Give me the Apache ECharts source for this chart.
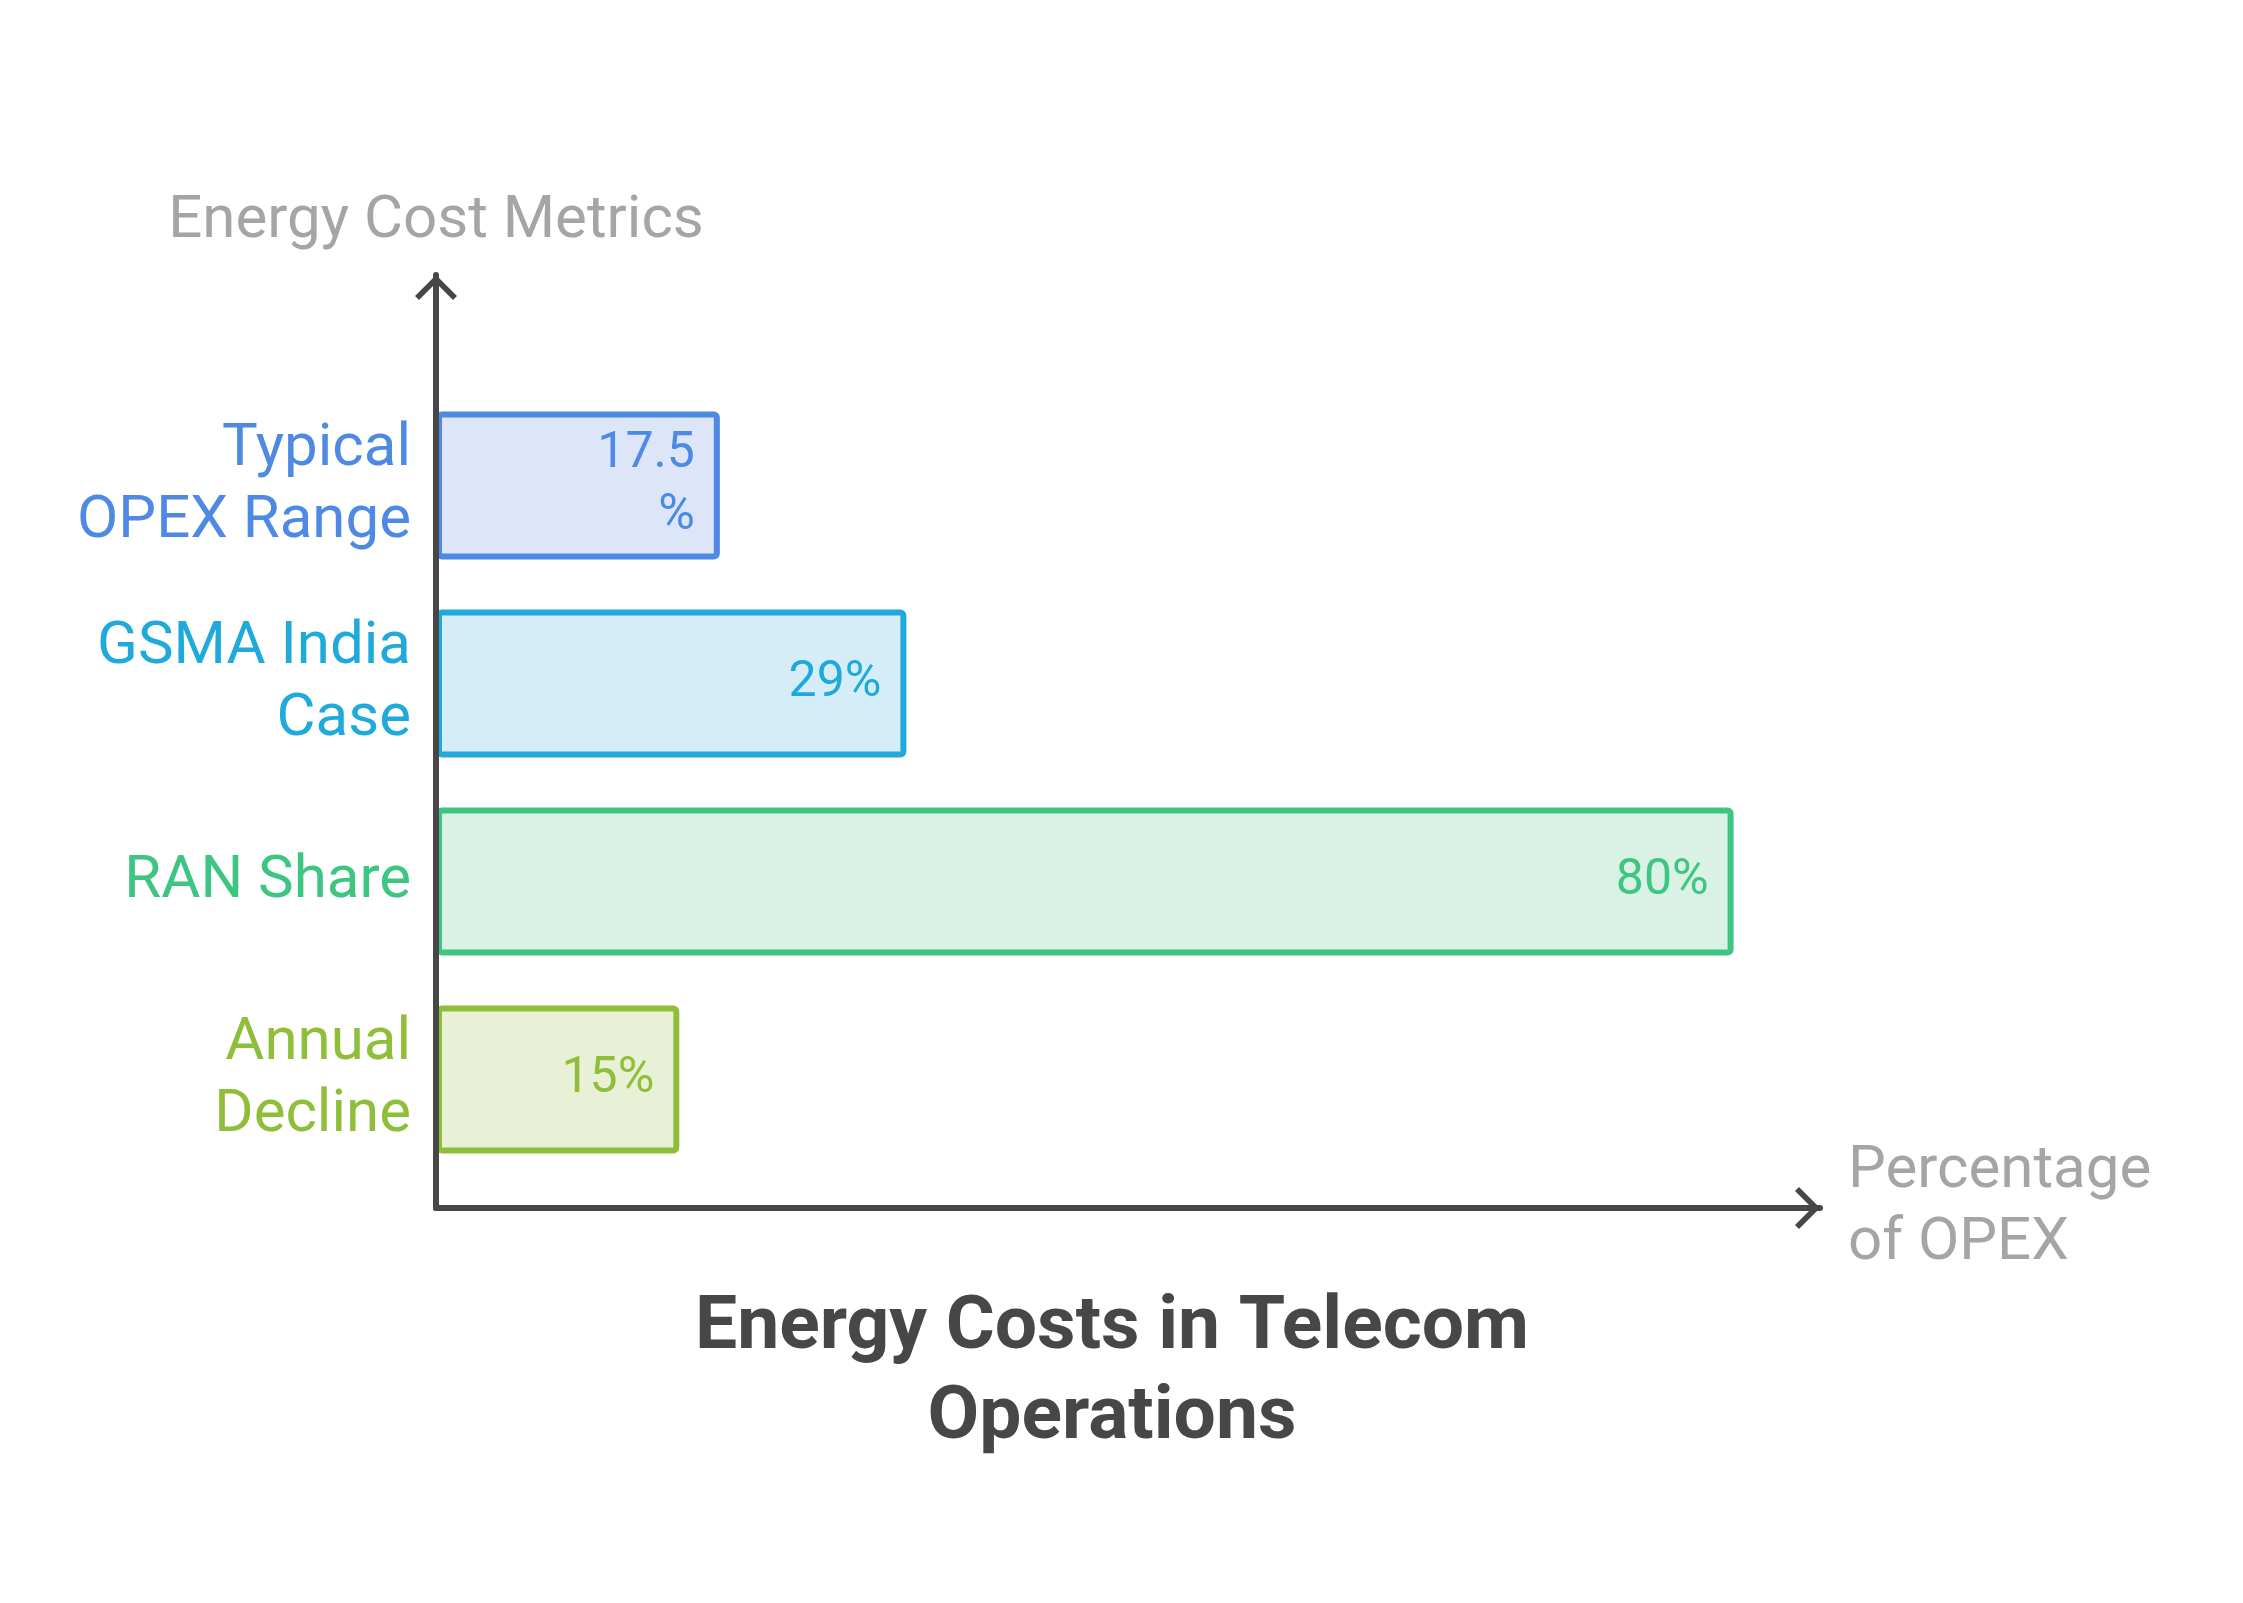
<!DOCTYPE html>
<html>
<head>
<meta charset="utf-8">
<title>Energy Costs in Telecom Operations</title>
<script src="https://cdn.jsdelivr.net/npm/echarts@6/dist/echarts.min.js"></script>
<style>
  html, body { margin: 0; padding: 0; background: #fff; }
  #chart { width: 2243px; height: 1603px; }
</style>
</head>
<body>
<div id="chart"></div>
<script>
/* Energy Costs in Telecom Operations — horizontal bars */

const CATEGORIES = ["Typical\nOPEX Range", "GSMA India\nCase", "RAN Share", "Annual\nDecline"];
const VALUES = [17.5, 29, 80, 15];
const LINE_COLORS = ["#4e89e4", "#20aadb", "#3ec581", "#8fbf3a"];
const FILL_COLORS = ["#dce6f8", "#d4edf8", "#d9f2e5", "#e8f1d6"];

const X_NAME = "Percentage\nof OPEX";
const Y_NAME = "Energy Cost Metrics";
const TITLE = "Energy Costs in Telecom\nOperations";

const AXIS_COLOR = "#474747";
const NAME_COLOR = "#a5a5a5";
const FONT = "Roboto, 'Noto Sans', sans-serif";

// open chevron, tip pointing "up" (ECharts rotates it along the axis)
const CHEVRON = "path://M21,0 L42,21 L38,25 L21,8 L4,25 L0,21 Z";

const chart = echarts.init(document.getElementById("chart"));

chart.setOption({
  backgroundColor: "#fff",
  animation: false,
  title: {
    text: TITLE,
    left: 1107,
    textAlign: "center",
    top: 1279,
    textStyle: {
      fontFamily: FONT, fontSize: 75, fontWeight: "bold",
      color: AXIS_COLOR, lineHeight: 90,
    },
  },
  grid: [
    // bars
    {left: 436, top: 386.5, width: 85 * 16.22, height: 792, containLabel: false},
    // visible axes with arrows
    {left: 436, top: 275, width: 1384, height: 933, containLabel: false},
  ],
  xAxis: [
    {
      gridIndex: 0, type: "value", min: 0, max: 85,
      axisLine: {show: false}, axisTick: {show: false},
      axisLabel: {show: false}, splitLine: {show: false},
    },
    {
      gridIndex: 1, type: "value", min: 0, max: 1, z: 10,
      name: X_NAME, nameLocation: "end", nameGap: 28,
      nameTextStyle: {fontFamily: FONT, fontSize: 60, color: NAME_COLOR, lineHeight: 72, align: "left"},
      axisLine: {
        show: true, onZero: false,
        lineStyle: {color: AXIS_COLOR, width: 6},
        symbol: ["none", CHEVRON], symbolSize: [42, 25], symbolOffset: [0, -12.5],
      },
      axisTick: {show: false}, axisLabel: {show: false}, splitLine: {show: false},
    },
  ],
  yAxis: [
    {
      gridIndex: 0, type: "category", inverse: true, data: CATEGORIES,
      axisLine: {show: false}, axisTick: {show: false}, splitLine: {show: false},
      axisLabel: {
        margin: 25, fontFamily: FONT, fontSize: 60, lineHeight: 72,
        align: "right",
        color: (v, i) => LINE_COLORS[i],
      },
    },
    {
      gridIndex: 1, type: "value", min: 0, max: 1, z: 10,
      name: Y_NAME, nameLocation: "end", nameGap: 23,
      nameTextStyle: {fontFamily: FONT, fontSize: 60, color: NAME_COLOR},
      axisLine: {
        show: true, onZero: false,
        lineStyle: {color: AXIS_COLOR, width: 6},
        symbol: ["none", CHEVRON], symbolSize: [42, 25], symbolOffset: [0, -12.5],
      },
      axisTick: {show: false}, axisLabel: {show: false}, splitLine: {show: false},
    },
  ],
  series: [{
    type: "bar",
    xAxisIndex: 0, yAxisIndex: 0,
    barWidth: 148,
    data: VALUES.map((v, i) => ({
      value: v,
      itemStyle: {color: FILL_COLORS[i], borderColor: LINE_COLORS[i], borderWidth: 6, borderRadius: 3},
      label: {color: LINE_COLORS[i]},
    })),
    label: {
      show: true, position: "insideRight", distance: 25,
      fontFamily: FONT, fontSize: 50, lineHeight: 62,
      width: 120, overflow: "breakAll", align: "right",
      formatter: p => p.value + "%",
    },
  }],
});

window.addEventListener("resize", () => chart.resize());
</script>
</body>
</html>
